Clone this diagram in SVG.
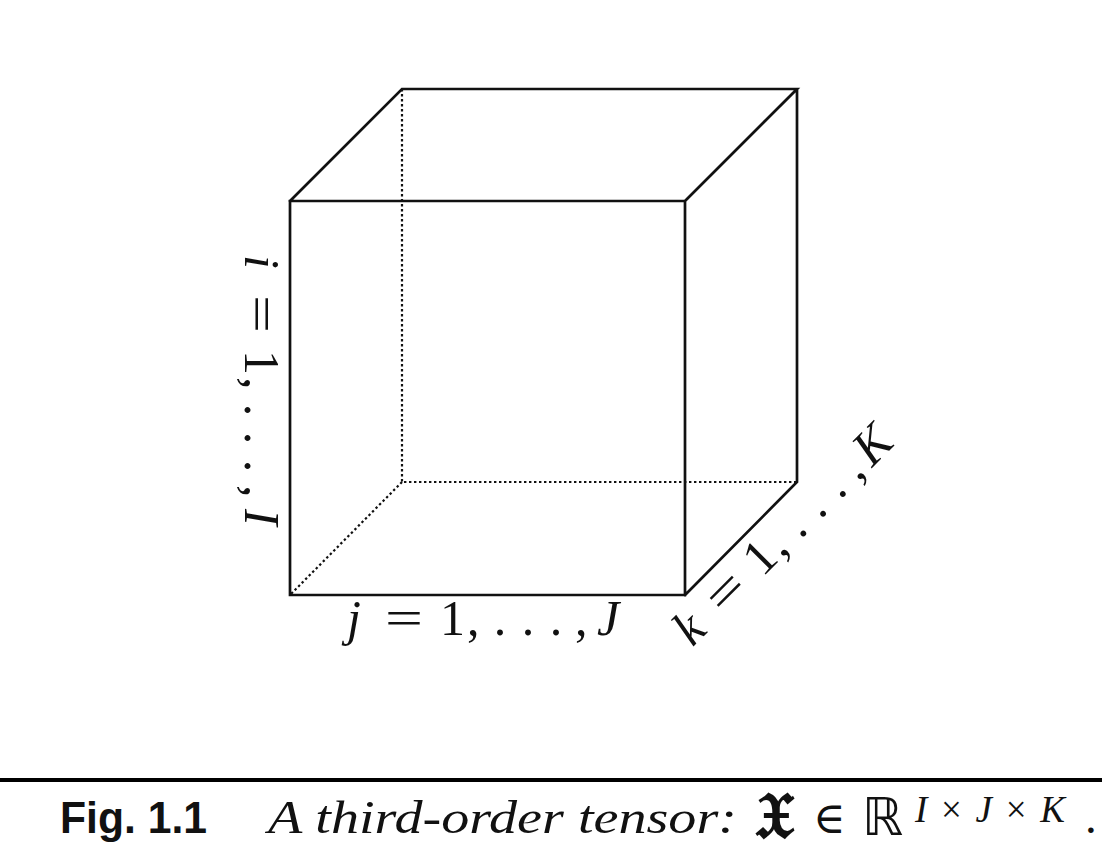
<svg xmlns="http://www.w3.org/2000/svg" width="1102" height="860" viewBox="0 0 1102 860">
<style>
.edge{fill:none;stroke:#111;stroke-width:2.7;stroke-linecap:square}
.hidden{fill:none;stroke:#111;stroke-width:2.2;stroke-dasharray:2.4 2.6}
.m{font-family:"Liberation Serif",serif;font-size:50px;fill:#111}
.mi{font-family:"Liberation Serif",serif;font-size:50px;font-style:italic;fill:#111}
.cap{font-family:"Liberation Serif",serif;font-style:italic;font-size:47px;fill:#111}
.sup{font-family:"Liberation Serif",serif;font-style:italic;font-size:37px;fill:#111}
.up{font-style:normal}
.fig{font-family:"Liberation Sans",sans-serif;font-weight:bold;font-size:44px;fill:#111}
.frak{font-family:"DejaVu Serif","DejaVu Sans",serif;font-size:64px;font-weight:bold;fill:#111}
.sym{font-family:"DejaVu Serif","DejaVu Sans",serif;font-size:44px;fill:#111}
.dbl{font-family:"DejaVu Sans",sans-serif;font-size:52px;fill:#111}
.dot{font-family:"Liberation Serif",serif;font-size:47px;fill:#111}
</style>
<defs>
<g id="lbl1">
<text class="m" x="0" y="0" dx="-5">1</text>
<text class="m" x="-60" y="0" textLength="38" lengthAdjust="spacingAndGlyphs">=</text>
<text class="m" x="22" y="0">,</text>
<text class="m" x="55" y="0" text-anchor="middle">.</text>
<text class="m" x="83" y="0" text-anchor="middle">.</text>
<text class="m" x="111" y="0" text-anchor="middle">.</text>
<text class="m" x="130" y="0">,</text>
</g>
</defs>
<rect width="1102" height="860" fill="#fff"/>
<g id="connectors">
<path class="hidden" d="M402,89 V482 H797 M402,482 L290,595"/>
<path class="edge" d="M290,201 H685 V595 H290 Z M290,201 L402,89 H797 L685,201 M797,89 V482 L685,595"/>
</g>
<g id="label-i" transform="translate(245,355) rotate(90)">
<use href="#lbl1"/>
<text class="mi" x="-100" y="0">i</text>
<text class="mi" x="154" y="0">I</text>
</g>
<g id="label-j" transform="translate(445,635)">
<use href="#lbl1"/>
<text class="mi" x="-98" y="0">j</text>
<text class="mi" x="152" y="0">J</text>
</g>
<g id="label-k" transform="translate(766,574) rotate(-45)">
<use href="#lbl1"/>
<text class="mi" x="-104" y="0">k</text>
<text class="mi" x="150" y="0">K</text>
</g>
<g id="caption">
<line x1="0" y1="780" x2="1102" y2="780" stroke="#000" stroke-width="4"/>
<text class="fig" x="60" y="833" textLength="147" lengthAdjust="spacingAndGlyphs">Fig. 1.1</text>
<text class="cap" x="268" y="833" textLength="469" lengthAdjust="spacingAndGlyphs">A third-order tensor:</text>
<text class="frak" x="755" y="838">𝔛</text>
<text class="sym" x="813" y="833">∈</text>
<text class="dbl" x="862" y="835">ℝ</text>
<text class="sup" x="915" y="822" textLength="150" lengthAdjust="spacing">I<tspan class="up">×</tspan>J<tspan class="up">×</tspan>K</text>
<text class="dot" x="1085" y="833">.</text>
</g>
</svg>
